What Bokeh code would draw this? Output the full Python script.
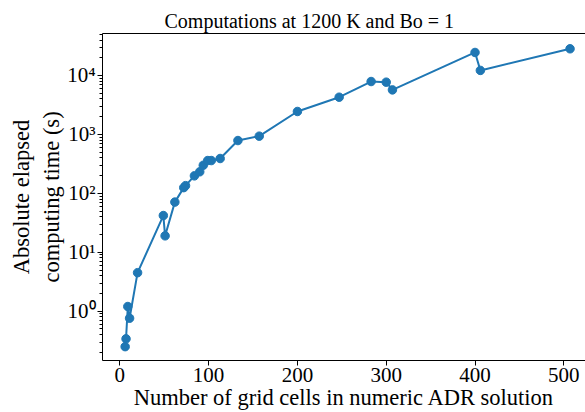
from bokeh.plotting import figure
from bokeh.models import Range1d, LinearAxis, FixedTicker, CustomJSTickFormatter
from bokeh.embed import file_html
from bokeh.resources import INLINE

# Data
grid_cells = [6, 7, 9, 11, 20, 49, 51, 62, 72, 74, 84, 90, 94, 99, 103, 113,
              133, 157, 200, 247, 283, 300, 307, 400, 406, 507]
elapsed_s = [0.25, 0.34, 1.2, 0.76, 4.5, 42, 19, 71, 125, 135, 198, 232, 300,
             360, 360, 390, 787, 934, 2450, 4280, 7900, 7700, 5700, 24600,
             12200, 28400]
x_ticks = [0, 100, 200, 300, 400, 500]
y_major = [1e0, 1e1, 1e2, 1e3, 1e4]

title_text = "Computations at 1200 K and Bo = 1"
x_label = "Number of grid cells in numeric ADR solution"
y_label = "Absolute elapsed\ncomputing time (s)"

FONT = "Liberation Serif"
BLUE = "#1f77b4"

y_minor = [m * 10.0 ** k for k in range(-1, 5) for m in range(2, 10)]

p = figure(width=585, height=412, y_axis_type="log",
           x_range=Range1d(-19.5, 524.4), y_range=Range1d(0.1456, 51600),
           output_backend="svg", toolbar_location=None,
           min_border_left=102, min_border_right=0, min_border_top=33,
           min_border_bottom=0)

p.line(grid_cells, elapsed_s, line_width=2, color=BLUE)
p.scatter(grid_cells, elapsed_s, size=8.5, color=BLUE)

p.title.text = title_text
p.title.text_font = FONT
p.title.text_font_size = "20px"
p.title.text_font_style = "normal"
p.title.text_color = "black"
p.title.align = "left"
p.title.offset = 62
p.title.standoff = 4

p.xgrid.visible = False
p.ygrid.visible = False
p.outline_line_color = None

xa = p.below[0]
ya = p.left[0]

# top spine
top = LinearAxis(major_tick_line_color=None, minor_tick_line_color=None,
                 major_label_text_font_size="0px", axis_line_color="black",
                 ticker=FixedTicker(ticks=[]))
p.add_layout(top, "above")

xa.ticker = FixedTicker(ticks=x_ticks)
xa.axis_label = x_label
ya.ticker = FixedTicker(ticks=y_major, minor_ticks=y_minor)
ya.formatter = CustomJSTickFormatter(code="""
const sup = "\u2070\u00b9\u00b2\u00b3\u2074\u2075\u2076\u2077\u2078\u2079";
const e = Math.round(Math.log10(tick));
return "10" + (e < 0 ? "\u207b" : "") + String(Math.abs(e)).split("").map(d => sup[+d]).join("");
""")
ya.axis_label = y_label

for ax in (xa, ya):
    ax.axis_line_color = "black"
    ax.axis_line_width = 1
    ax.major_tick_in = 0
    ax.major_tick_out = 5
    ax.minor_tick_in = 0
    ax.minor_tick_out = 3
    ax.major_tick_line_color = "black"
    ax.minor_tick_line_color = "black"
    ax.major_label_text_font = FONT
    ax.major_label_text_font_size = "21px"
    ax.major_label_text_color = "black"
    ax.axis_label_text_font = FONT
    ax.axis_label_text_font_size = "22.5px"
    ax.axis_label_text_font_style = "normal"
    ax.axis_label_text_color = "black"
    ax.major_label_standoff = 3
    ax.axis_label_standoff = 0

xa.major_label_standoff = 2
ya.major_label_standoff = 2
xa.minor_tick_line_color = None

open("out.html", "w").write(file_html(p, INLINE))
